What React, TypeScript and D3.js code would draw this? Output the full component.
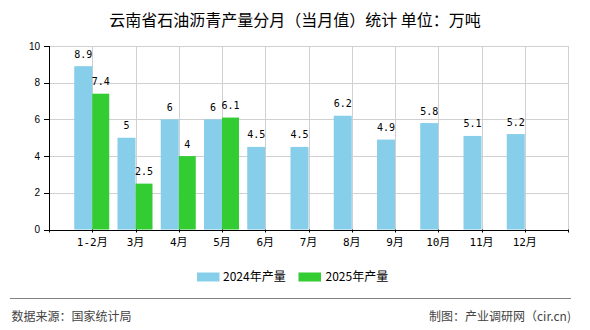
import React from "react";
import * as d3 from "d3";

const categories = ["1-2月", "3月", "4月", "5月", "6月", "7月", "8月", "9月", "10月", "11月", "12月"];
const values2024 = [8.9, 5, 6, 6, 4.5, 4.5, 6.2, 4.9, 5.8, 5.1, 5.2];
const values2025 = [7.4, 2.5, 4, 6.1];
const yTicks = [0, 2, 4, 6, 8, 10];
const seriesNames = ["2024年产量", "2025年产量"];
const title = "云南省石油沥青产量分月（当月值）统计 单位：万吨";
const sourceText = "数据来源：国家统计局";
const creditText = "制图：产业调研网（cir.cn)";

const W = 590, H = 330;
const left = 49, right = 568, top = 46, bottom = 229.5;
const colors = ["#87CEEB", "#33CC33"];
const barW = 18;
const cjk = "'Noto Sans CJK SC', 'Noto Sans', sans-serif";
const mono = "'DejaVu Sans Mono', 'Noto Sans CJK SC', monospace";

export default function App() {
  const x = d3.scalePoint<string>().domain(categories).range([left, right]).padding(1);
  const y = d3.scaleLinear().domain([0, 10]).range([bottom, top]);
  const fmt = (v: number) => String(v);
  const gridXs = [...categories.map((c) => x(c) as number), right];

  return (
    <svg width={W} height={H} style={{ position: "absolute", left: 0, top: 0, display: "block", background: "#fff" }}>
      <text x={295} y={25.5} textAnchor="middle" fontSize={16} fontFamily={cjk} fill="#000">{title}</text>

      {/* grid */}
      {yTicks.filter((t) => t > 0).map((t) => (
        <line key={"gy" + t} x1={left} x2={right} y1={Math.round(y(t)) + 0.5} y2={Math.round(y(t)) + 0.5} stroke="#d0d0d0" strokeWidth={1} />
      ))}
      {gridXs.map((gx, i) => (
        <line key={"gx" + i} x1={Math.round(gx) + 0.5} x2={Math.round(gx) + 0.5} y1={top} y2={bottom} stroke="#d0d0d0" strokeWidth={1} />
      ))}

      {/* bars */}
      {values2024.map((v, i) => {
        const cx = x(categories[i]) as number;
        return <rect key={"a" + i} x={cx - barW} y={y(v)} width={barW} height={bottom - y(v)} fill={colors[0]} />;
      })}
      {values2025.map((v, i) => {
        const cx = x(categories[i]) as number;
        return <rect key={"b" + i} x={cx} y={y(v)} width={barW - 1} height={bottom - y(v)} fill={colors[1]} />;
      })}

      {/* value labels */}
      {values2024.map((v, i) => {
        const cx = (x(categories[i]) as number) - barW / 2;
        return <text key={"la" + i} x={cx} y={y(v) - 8.5} textAnchor="middle" fontSize={10} fontFamily={mono} fill="#000">{fmt(v)}</text>;
      })}
      {values2025.map((v, i) => {
        const cx = (x(categories[i]) as number) + (barW - 1) / 2;
        return <text key={"lb" + i} x={cx} y={y(v) - 8.5} textAnchor="middle" fontSize={10} fontFamily={mono} fill="#000">{fmt(v)}</text>;
      })}

      {/* axes */}
      <line x1={left + 0.5} x2={left + 0.5} y1={top} y2={bottom + 0.5} stroke="#000" strokeWidth={1} />
      <line x1={left} x2={right + 1} y1={Math.round(bottom) + 0.5} y2={Math.round(bottom) + 0.5} stroke="#000" strokeWidth={1} />
      {yTicks.map((t) => (
        <g key={"yt" + t}>
          <line x1={left - 5} x2={left} y1={Math.round(y(t)) + 0.5} y2={Math.round(y(t)) + 0.5} stroke="#000" />
          <text x={40} y={y(t) + 3.5} textAnchor="end" fontSize={10} fontFamily="'Liberation Sans', sans-serif" fill="#000">{t}</text>
        </g>
      ))}
      {[left, ...gridXs].map((gx, i) => (
        <line key={"xt" + i} x1={Math.round(gx) + 0.5} x2={Math.round(gx) + 0.5} y1={bottom} y2={bottom + 3} stroke="#000" />
      ))}
      {categories.map((c) => (
        <text key={"xl" + c} x={x(c) as number} y={246} textAnchor="middle" fontSize={11} fontFamily={mono} fill="#000">{c}</text>
      ))}

      {/* legend */}
      <rect x={197} y={272.5} width={22.5} height={9} fill={colors[0]} />
      <text x={223} y={281} fontSize={12} fontFamily={cjk} fill="#000">{seriesNames[0]}</text>
      <rect x={298.5} y={272.5} width={22.5} height={9} fill={colors[1]} />
      <text x={325.5} y={281} fontSize={12} fontFamily={cjk} fill="#000">{seriesNames[1]}</text>

      {/* footer */}
      <line x1={10} x2={571} y1={298.5} y2={298.5} stroke="#808080" strokeWidth={1.2} />
      <text x={11.5} y={320.5} fontSize={12} fontFamily={cjk} fill="#444">{sourceText}</text>
      <text x={571} y={320.5} textAnchor="end" fontSize={12} fontFamily={cjk} fill="#444">{creditText}</text>
    </svg>
  );
}
